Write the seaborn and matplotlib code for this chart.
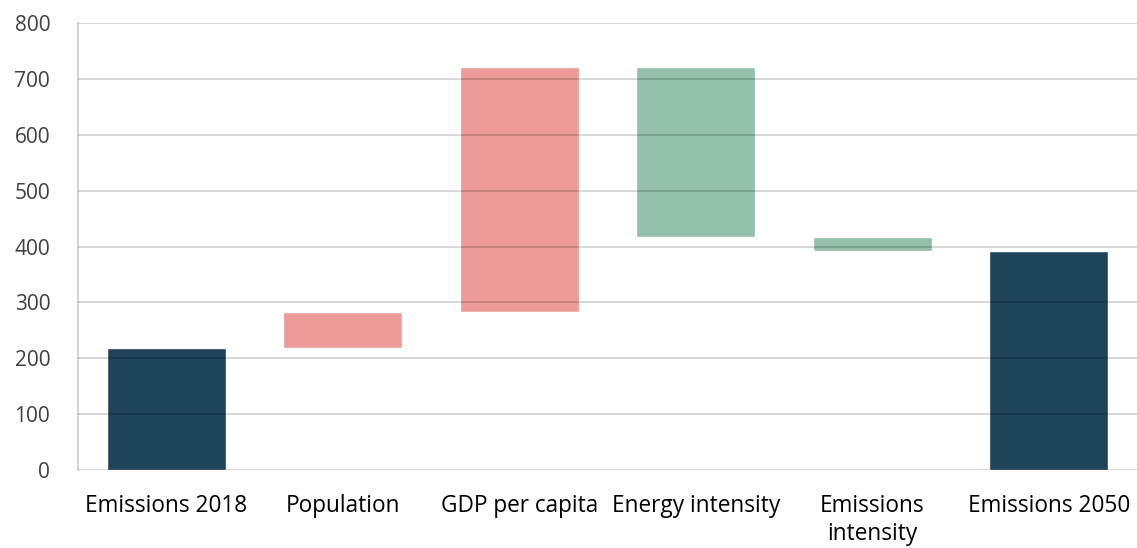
import matplotlib
matplotlib.use('Agg')
import matplotlib.pyplot as plt
import seaborn as sns
import pandas as pd
import numpy as np

# waterfall: start value, changes, end value
categories = ['Emissions 2018', 'Population', 'GDP per capita', 'Energy intensity',
              'Emissions\nintensity', 'Emissions 2050']
changes = [218, 65, 438, -304, -25, 392]
kinds = ['total', 'change', 'change', 'change', 'change', 'total']

# work out floating bar bottoms and heights
bottoms = []
heights = []
level = 0
for c, k in zip(changes, kinds):
    if k == 'total':
        bottoms.append(0)
        heights.append(c)
        level = c
    else:
        new_level = level + c
        bottoms.append(min(level, new_level))
        heights.append(abs(c))
        level = new_level

colors = []
for c, k in zip(changes, kinds):
    if k == 'total':
        colors.append('#1F4459')
    elif c > 0:
        colors.append('#EC9B98')
    else:
        colors.append('#93BFAB')

df = pd.DataFrame({'category': categories, 'height': heights,
                   'bottom': bottoms, 'color': colors})

sns.set_style('white')
plt.rcParams['font.family'] = ['Open Sans', 'DejaVu Sans']

fig = plt.figure(figsize=(11.37, 5.48), dpi=100)
ax = fig.add_axes([0.0686, 0.1423, 0.9314, 0.8157])

# one call per bar so every bar gets its own floating bottom
for _, row in df.iterrows():
    sns.barplot(x=[row['category']], y=[row['height']], order=categories,
                color=row['color'], saturation=1, width=0.675,
                bottom=row['bottom'], ax=ax)

ax.set_ylim(0, 800)
ax.set_xlim(-0.5, 5.5)
ax.set_yticks(np.arange(0, 801, 100))
ax.yaxis.grid(True, color='black', alpha=0.17, linewidth=1.3)
ax.set_axisbelow(False)
for s in ['top', 'right', 'bottom']:
    ax.spines[s].set_visible(False)
ax.spines['left'].set_color('#D0D0D0')
ax.spines['left'].set_linewidth(1.3)
ax.tick_params(axis='both', length=0)
ax.tick_params(axis='y', labelsize=15, labelcolor='#404040', pad=20)
ax.tick_params(axis='x', labelsize=16.3, labelcolor='black', pad=17)
for lbl in ax.get_xticklabels():
    lbl.set_linespacing(1.25)
ax.set_xlabel('')
ax.set_ylabel('')

fig.savefig('out.png', dpi=100)
